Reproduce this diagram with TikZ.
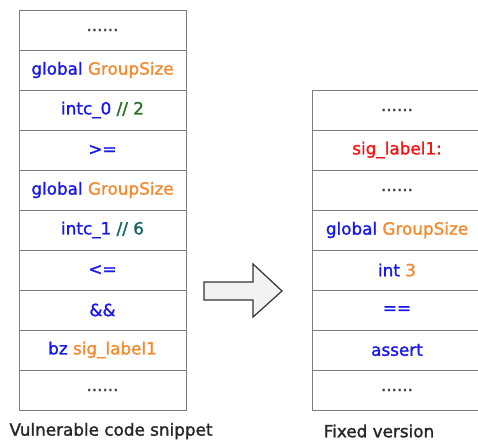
\documentclass[tikz,border=0pt]{standalone}
\usepackage{fontspec}
\setmainfont{DejaVu Sans}
\newfontfamily\cellfont{DejaVu Sans}[FakeBold=1.4]
\definecolor{kwblue}{RGB}{24,24,235}
\definecolor{idorange}{RGB}{242,138,48}
\definecolor{cgreen}{RGB}{40,110,40}
\definecolor{cteal}{RGB}{20,100,100}
\definecolor{lblred}{RGB}{250,20,20}
\definecolor{borderg}{RGB}{125,125,125}
\definecolor{dotg}{RGB}{60,60,60}
\definecolor{arrowfill}{RGB}{242,242,242}
\definecolor{arrowdraw}{RGB}{50,50,50}
\begin{document}
\begin{tikzpicture}[x=1pt,y=-1pt,
  cell/.style={draw=borderg, line width=1pt, rectangle, inner sep=0pt,
    minimum height=40pt, font=\cellfont\fontsize{16.8}{19}\selectfont},
  lcell/.style={cell, minimum width=167pt},
  rcell/.style={cell, minimum width=170pt},
  caption/.style={inner sep=0pt, text=black!85, font=\cellfont\fontsize{16.8}{19}\selectfont},
  dots/.style={text=dotg}]
\useasboundingbox (0,0) rectangle (478,440);
\begin{scope}
\clip (0,0) rectangle (478,440);
% left column
\node[lcell] (l0) at (102.5,30) {\textcolor{dotg}{......}};
\node[lcell] (l1) at (102.5,70) {\textcolor{kwblue}{global} \textcolor{idorange}{GroupSize}};
\node[lcell] (l2) at (102.5,110) {\textcolor{kwblue}{intc\_0} \textcolor{cgreen}{// 2}};
\node[lcell] (l3) at (102.5,150) {\textcolor{kwblue}{>=}};
\node[lcell] (l4) at (102.5,190) {\textcolor{kwblue}{global} \textcolor{idorange}{GroupSize}};
\node[lcell] (l5) at (102.5,230) {\textcolor{kwblue}{intc\_1} \textcolor{cteal}{// 6}};
\node[lcell] (l6) at (102.5,270) {\textcolor{kwblue}{<=}};
\node[lcell] (l7) at (102.5,310) {\textcolor{kwblue}{\&\&}};
\node[lcell] (l8) at (102.5,350) {\textcolor{kwblue}{bz} \textcolor{idorange}{sig\_label1}};
\node[lcell] (l9) at (102.5,390) {\textcolor{dotg}{......}};
% right column
\node[rcell] (r0) at (397,110) {\textcolor{dotg}{......}};
\node[rcell] (r1) at (397,150) {\textcolor{lblred}{sig\_label1:}};
\node[rcell] (r2) at (397,190) {\textcolor{dotg}{......}};
\node[rcell] (r3) at (397,230) {\textcolor{kwblue}{global} \textcolor{idorange}{GroupSize}};
\node[rcell] (r4) at (397,270) {\textcolor{kwblue}{int} \textcolor{idorange}{3}};
\node[rcell] (r5) at (397,310) {\textcolor{kwblue}{==}};
\node[rcell] (r6) at (397,350) {\textcolor{kwblue}{assert}};
\node[rcell] (r7) at (397,390) {\textcolor{dotg}{......}};
\end{scope}
% block arrow
\draw[fill=arrowfill, draw=arrowdraw, line width=1.2pt, line join=miter]
  (204,282) -- (253,282) -- (253,264) -- (282,291) -- (253,317)
  -- (253,300) -- (204,300) -- cycle;
% captions
\node[caption] (c1) at (111,431) {Vulnerable code snippet};
\node[caption] (c2) at (379,431) {Fixed version};
\end{tikzpicture}
\end{document}
